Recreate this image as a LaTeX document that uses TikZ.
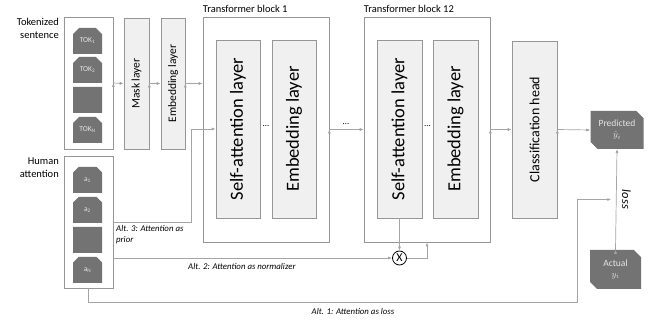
\documentclass[tikz,border=0pt]{standalone}
\usepackage{fontspec}
\setmainfont{Carlito}
\usepackage{amsmath}
\usepackage{xcolor}
\usepackage{tikz}
\usetikzlibrary{arrows.meta,shapes.misc,positioning,calc}

\definecolor{boxfill}{RGB}{240,240,240}
\definecolor{framegray}{RGB}{150,150,150}
\definecolor{linegray}{RGB}{165,165,165}
\definecolor{tokfill}{RGB}{115,115,115}

\begin{document}
\begin{tikzpicture}[x=1pt,y=-1pt,>={Latex[length=4pt,width=3pt]}]
	\tikzstyle{frame}=[draw=framegray,fill=white,line width=0.7pt,inner sep=0pt]
	\tikzstyle{layer}=[draw=framegray,fill=boxfill,line width=0.7pt,inner sep=0pt]
	\tikzstyle{tok}=[chamfered rectangle,chamfered rectangle corners={north west,north east},chamfered rectangle xsep=3pt,fill=tokfill,text=white!90!black,font=\fontsize{7.5}{8}\selectfont,minimum width=29pt,minimum height=26pt,inner sep=0pt]
	\tikzstyle{outcome}=[chamfered rectangle,chamfered rectangle corners={north east,south west},chamfered rectangle xsep=4pt,fill=tokfill,text=white!90!black,font=\fontsize{9.5}{11}\selectfont,align=center,minimum width=53pt,minimum height=38pt,inner sep=0pt]
	\tikzstyle{conn}=[draw=linegray,line width=0.7pt]
	\tikzstyle{big}=[rotate=90,font=\fontsize{18.5}{20}\selectfont]
	\tikzstyle{small}=[rotate=90,font=\fontsize{11.5}{13}\selectfont]
	\tikzstyle{alt}=[font=\fontsize{8.8}{11.5}\selectfont\itshape,align=left,inner sep=0pt]
	
	\useasboundingbox (0,0) rectangle (662,320);
	
	% inputs
	\node[frame,minimum width=49pt,minimum height=132pt](sent) at (88.5,83){};
	\foreach \n/\y/\t in {tok1/41/TOK\textsubscript{1},tok2/70/TOK\textsubscript{2},tok3/100/,tokn/130/TOK\textsubscript{N}}
		\node[tok](\n) at (87.5,\y){\t};
	\node[frame,minimum width=49pt,minimum height=132pt](att) at (88.5,222){};
	\foreach \n/\y/\t in {a1/180/a\textsubscript{1},a2/210/a\textsubscript{2},a3/240/,an/270/a\textsubscript{N}}
		\node[tok](\n) at (87.5,\y){\t};
	\node[anchor=north east,align=right,font=\fontsize{10.5}{13}\selectfont,inner sep=0pt](sentlbl) at (59,18){Tokenized\\sentence};
	\node[anchor=north east,align=right,font=\fontsize{10.5}{13}\selectfont,inner sep=0pt](attlbl) at (59,158){Human\\attention};
	
	% first layers
	\node[layer,minimum width=25pt,minimum height=131pt](mask) at (136.5,83.5){};
	\node[small] at (mask){Mask layer};
	\node[layer,minimum width=24pt,minimum height=131pt](emb) at (173,83.5){};
	\node[small] at (emb){Embedding layer};
	
	% transformer blocks
	\node[frame,minimum width=126pt,minimum height=225pt](blk1) at (266,129.5){};
	\node[anchor=south west,font=\fontsize{10.5}{11}\selectfont,inner sep=0pt](blk1lbl) at ([yshift=4pt]blk1.north west){Transformer block 1};
	\node[layer,minimum width=44pt,minimum height=178pt](sa1) at (238,129){};
	\node[big] at (sa1){Self-attention layer};
	\node[layer,minimum width=44pt,minimum height=178pt](emb1) at (294,129){};
	\node[big] at (emb1){Embedding layer};
	\node[font=\fontsize{9}{9}\selectfont](dots1) at (266,126){\dots};
	
	\node[frame,minimum width=126pt,minimum height=225pt](blk12) at (427,129.5){};
	\node[anchor=south west,font=\fontsize{10.5}{11}\selectfont,inner sep=0pt](blk12lbl) at ([yshift=4pt]blk12.north west){Transformer block 12};
	\node[layer,minimum width=45pt,minimum height=178pt](sa12) at (399.5,129){};
	\node[big] at (sa12){Self-attention layer};
	\node[layer,minimum width=45pt,minimum height=178pt](emb12) at (455.5,129){};
	\node[big] at (emb12){Embedding layer};
	\node[font=\fontsize{9}{9}\selectfont](dots12) at (427.5,126){\dots};
	\node[font=\fontsize{9}{9}\selectfont](dotsb) at (346,124){\dots};
	
	% head and outputs
	\node[layer,minimum width=45pt,minimum height=177pt](head) at (534.5,129.5){};
	\node[rotate=90,font=\fontsize{14}{16}\selectfont] at (head){Classification head};
	\node[outcome](pred) at (617,130){Predicted\\$\hat{y}_i$};
	\node[outcome,minimum width=51pt,minimum height=39pt](act) at (615.5,269.5){Actual\\$y_i$};
	\node[draw,circle,line width=0.8pt,inner sep=0pt,minimum size=14pt,font=\fontsize{12}{12}\selectfont](mult) at (399.5,258){X};
	\coordinate (lossmid) at ($(act.north)!0.5!(pred.south)$);
	
	% main flow
	\path[conn,->] (sent.east) edge (mask.west);
	\path[conn,->] (mask.west -| mask.east) edge (emb.west);
	\path[conn,->] (emb.east) edge (emb.east -| blk1.west);
	\path[conn,->] (blk1.east) edge (blk12.west);
	\path[conn,->] (blk12.east) edge (head.west);
	\path[conn,->] (head.east) edge (pred.west);
	\path[conn,->] (act.north) edge node[font=\fontsize{12.5}{12}\selectfont\itshape,rotate=-90,anchor=south,yshift=2pt]{loss} (pred.south);
	
	% attention alternatives
	\draw[conn,->] (att.east) -| ([xshift=-24pt]sa1.west) -- (sa1.west);
	\node[alt,anchor=north west](alt3) at (116,225){Alt. 3: Attention as\\prior};
	\draw[conn,->] ([yshift=-36pt]att.east) -- (mult.west);
	\node[alt,anchor=north west](alt2) at (188,263){Alt. 2: Attention as normalizer};
	\draw[conn,->] (sa12.south) -- (mult.north);
	\draw[conn,->] (mult.east) -| (blk12.south);
	\draw[conn,->] (att.south) -- ++(0,14) -| ([xshift=-39pt]lossmid) -- ([xshift=-5pt]lossmid);
	\node[alt](alt1) at (353,311){Alt. 1: Attention as loss};
\end{tikzpicture}
\end{document}
